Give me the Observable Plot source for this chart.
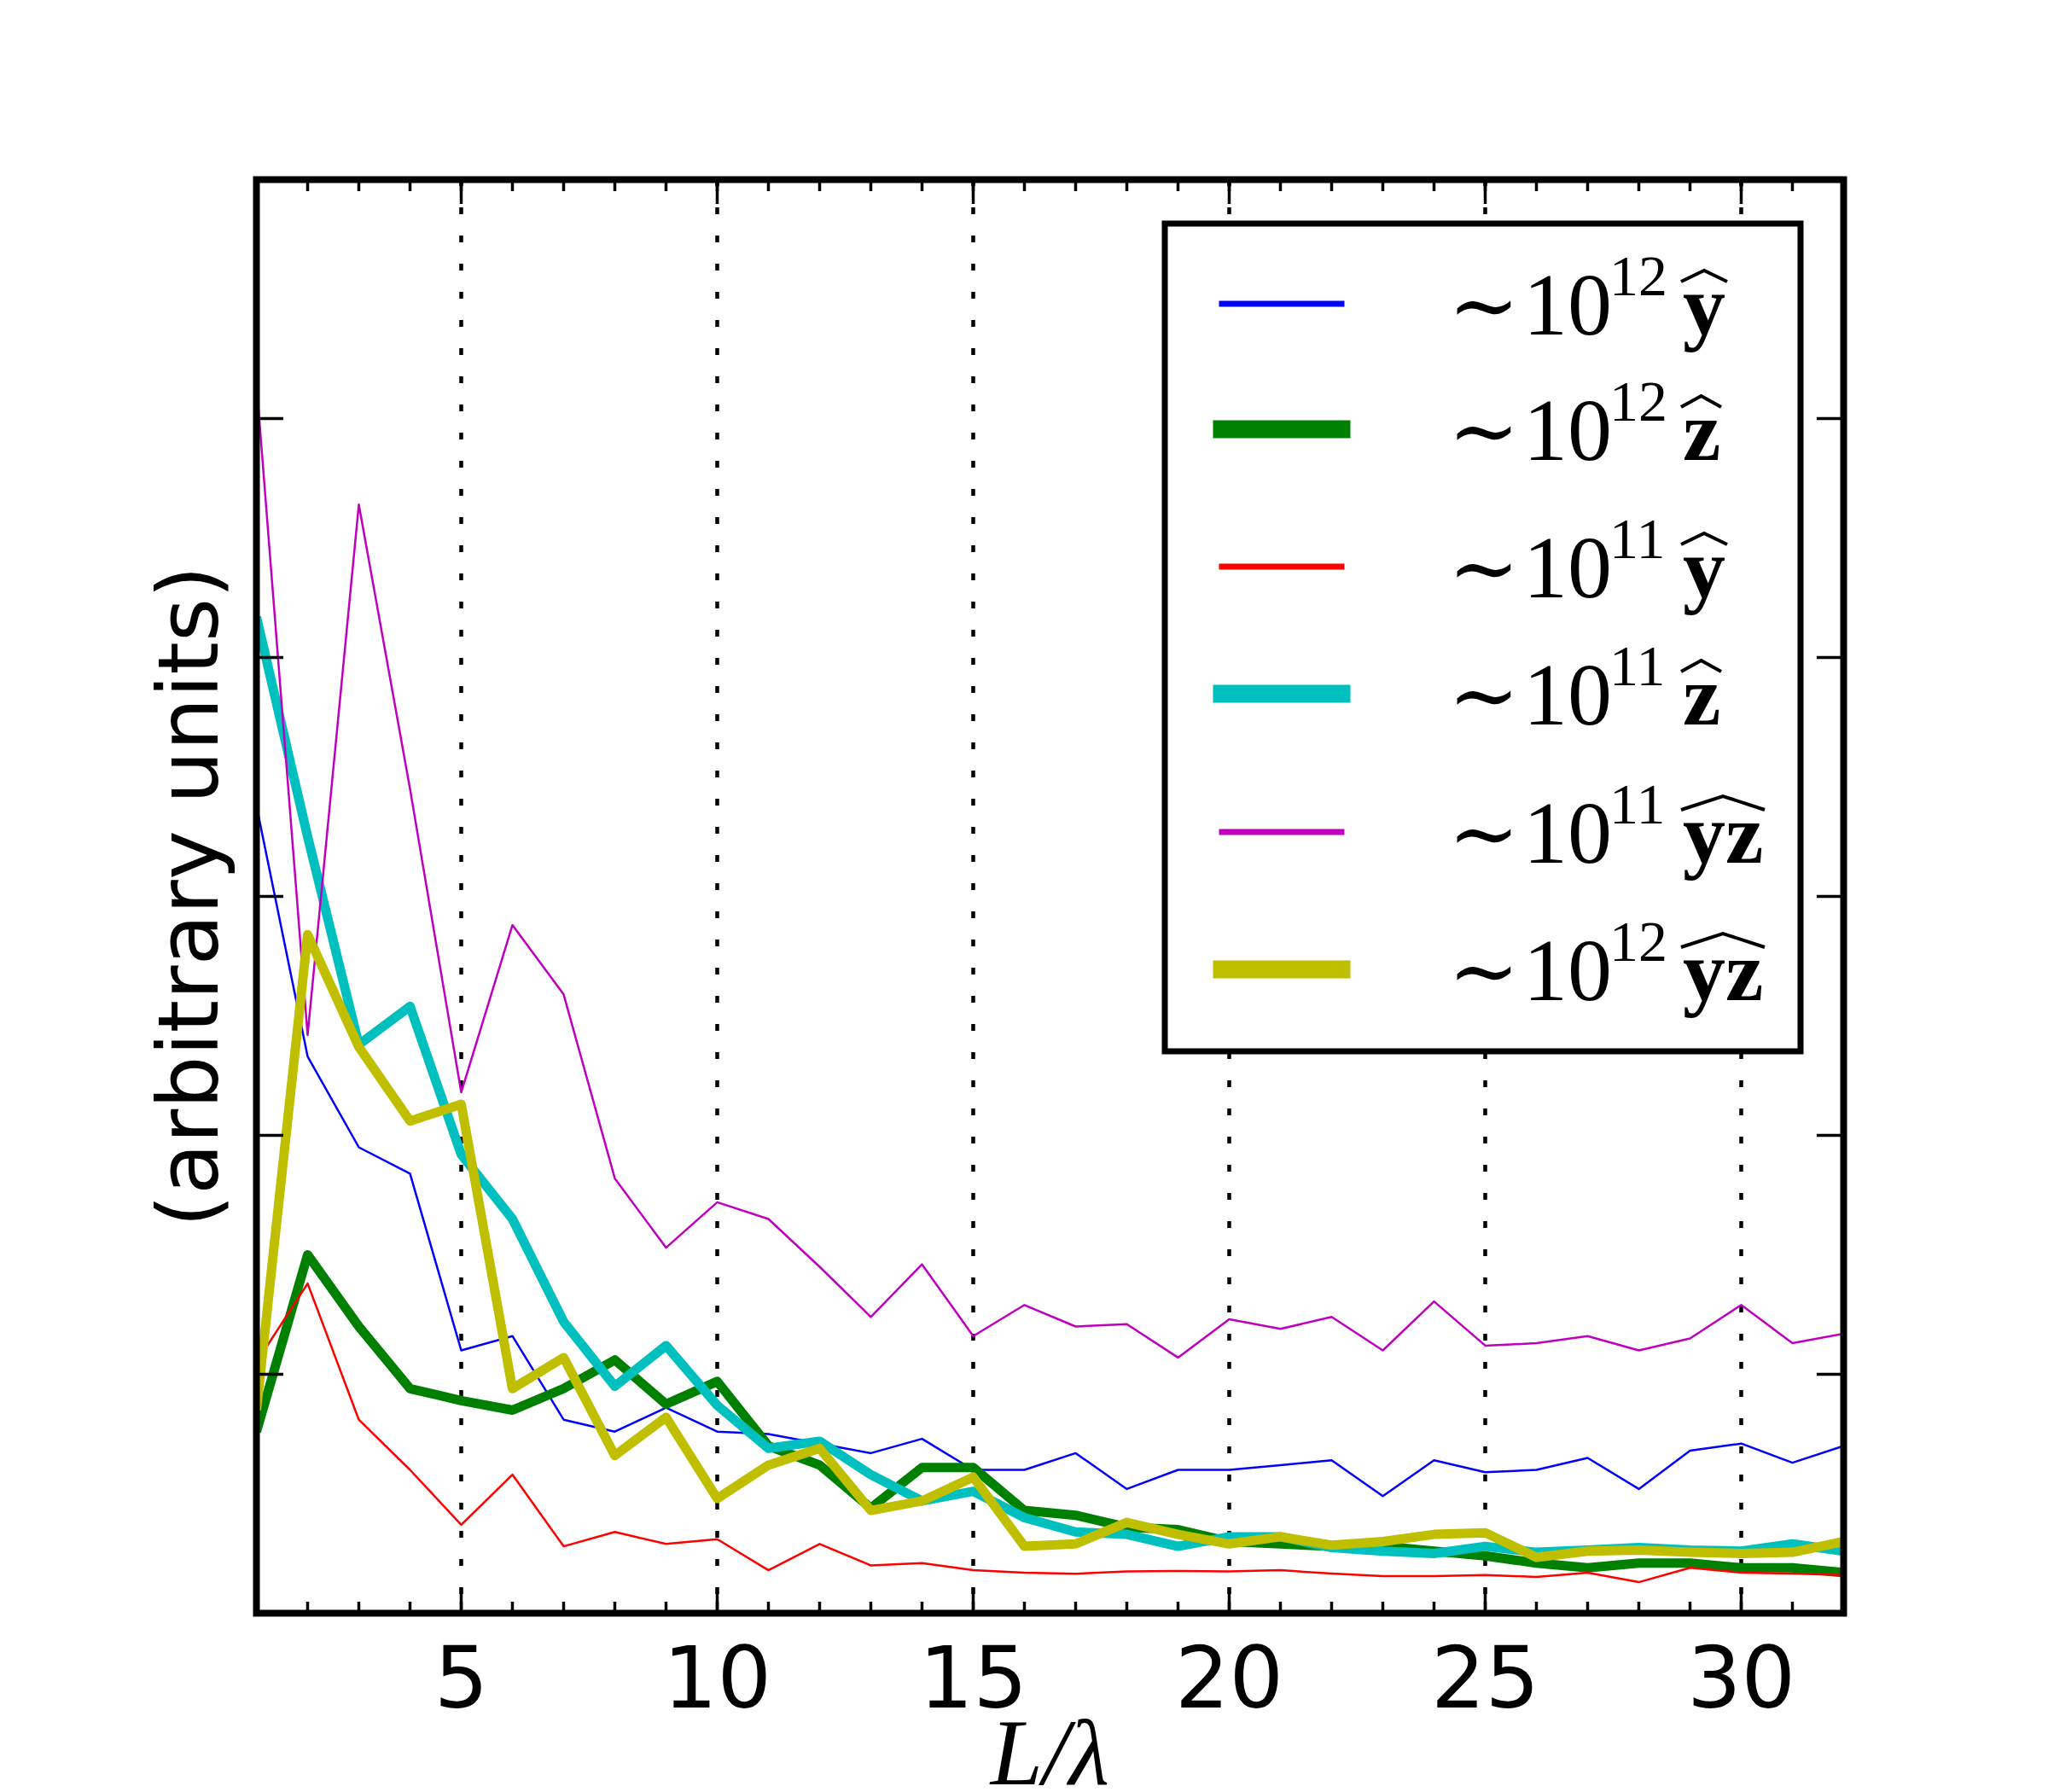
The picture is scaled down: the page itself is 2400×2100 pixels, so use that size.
<!DOCTYPE html>
<html>
<head>
<meta charset="utf-8">
<script src="https://cdn.jsdelivr.net/npm/d3@7"></script>
<script src="https://cdn.jsdelivr.net/npm/@observablehq/plot@0.6"></script>
<style>
  html, body { margin: 0; padding: 0; background: #fff; }
</style>
</head>
<body>
<div id="chart"></div>
<script>
// ---- data ----
const L = [1,2,3,4,5,6,7,8,9,10,11,12,13,14,15,16,17,18,19,20,21,22,23,24,25,26,27,28,29,30,31,32];

const y12  = [3.38,2.33,1.95,1.84,1.10,1.16,0.81,0.76,0.86,0.76,0.75,0.71,0.67,0.73,0.60,0.60,0.67,0.52,0.60,0.60,0.62,0.64,0.49,0.64,0.59,0.60,0.65,0.52,0.68,0.71,0.63,0.70];
const z12  = [0.76,1.50,1.20,0.94,0.89,0.85,0.94,1.06,0.875,0.97,0.70,0.62,0.44,0.61,0.61,0.43,0.41,0.36,0.35,0.30,0.29,0.28,0.28,0.26,0.24,0.21,0.19,0.21,0.21,0.19,0.19,0.17];
const y11  = [1.05,1.38,0.81,0.60,0.37,0.58,0.28,0.34,0.29,0.31,0.18,0.29,0.20,0.21,0.18,0.17,0.165,0.175,0.177,0.175,0.18,0.166,0.155,0.155,0.16,0.152,0.17,0.13,0.19,0.17,0.166,0.16];
const z11  = [4.17,3.25,2.38,2.54,1.92,1.65,1.22,0.95,1.12,0.87,0.69,0.72,0.58,0.47,0.51,0.40,0.34,0.33,0.28,0.32,0.32,0.275,0.26,0.25,0.28,0.255,0.264,0.275,0.264,0.26,0.29,0.26];
const yz11 = [5.15,2.42,4.64,3.45,2.18,2.88,2.59,1.82,1.53,1.72,1.65,1.45,1.24,1.46,1.16,1.29,1.20,1.21,1.07,1.23,1.19,1.24,1.10,1.305,1.12,1.13,1.16,1.10,1.15,1.29,1.13,1.17];
const yz12 = [0.85,2.84,2.37,2.06,2.13,0.94,1.07,0.66,0.82,0.48,0.62,0.69,0.43,0.47,0.57,0.28,0.29,0.38,0.33,0.29,0.32,0.285,0.30,0.33,0.337,0.234,0.26,0.264,0.255,0.25,0.255,0.30];

const xMajorTicks = [5,10,15,20,25,30];
const xMinorTicks = L;
const yTicks = [1,2,3,4,5];

const legendExponents = ["12","12","11","11","11","12"];
const legendLetters   = ["y","z","y","z","yz","yz"];
const seriesValues    = [y12, z12, y11, z11, yz11, yz12];
const seriesColors    = ["#0000ff","#008000","#ff0000","#00bfbf","#bf00bf","#bfbf00"];
const seriesThick     = [false, true, false, true, false, true];

// ---- build ----
const W = 2400, H = 2100;
const mL = 300, mR = 240, mT = 210, mB = 210;

const lineMarks = seriesValues.map((vals, s) =>
  Plot.line(L.map((x, i) => ({x, v: vals[i]})), {
    x: "x", y: "v",
    stroke: seriesColors[s],
    strokeWidth: seriesThick[s] ? 11 : 2.5,
    strokeLinejoin: "round",
    strokeLinecap: "butt",
    clip: "frame"
  })
);

const noText = () => "";

const plot = Plot.plot({
  width: W,
  height: H,
  marginLeft: mL, marginRight: mR, marginTop: mT, marginBottom: mB,
  style: {background: "white", fontFamily: "DejaVu Sans", overflow: "visible"},
  x: {domain: [1, 32]},
  y: {domain: [0, 6]},
  marks: [
    Plot.gridX(xMajorTicks, {stroke: "black", strokeOpacity: 1, strokeWidth: 4.5, strokeDasharray: "8,25"}),
    ...lineMarks,
    // minor ticks (inward) top and bottom
    Plot.axisX(xMinorTicks, {anchor: "bottom", tickSize: -13, strokeWidth: 3.5, tickFormat: noText, label: null}),
    Plot.axisX(xMinorTicks, {anchor: "top", tickSize: -13, strokeWidth: 3.5, tickFormat: noText, label: null}),
    // major ticks (inward)
    Plot.axisX(xMajorTicks, {anchor: "bottom", tickSize: -28, strokeWidth: 3.5, tickFormat: noText, label: null}),
    Plot.axisX(xMajorTicks, {anchor: "top", tickSize: -28, strokeWidth: 3.5, tickFormat: noText, label: null}),
    // tick labels
    Plot.axisX(xMajorTicks, {anchor: "bottom", tickSize: 0, tickPadding: 39, fontSize: 100, label: null, fill: "black"}),
    // y ticks, no labels
    Plot.axisY(yTicks, {anchor: "left", tickSize: -32, strokeWidth: 3.5, tickFormat: noText, label: null}),
    Plot.axisY(yTicks, {anchor: "right", tickSize: -32, strokeWidth: 3.5, tickFormat: noText, label: null}),
    // axis titles
    Plot.text(["(arbitrary units)"], {frameAnchor: "left", rotate: -90, dx: -46, textAnchor: "middle", lineAnchor: "bottom", fontSize: 98, fill: "black", fontFamily: "DejaVu Sans"}),
    Plot.text(["L/λ"], {frameAnchor: "bottom", dy: 200, textAnchor: "middle", lineAnchor: "bottom", fontSize: 110, fontStyle: "italic", fontFamily: "Liberation Serif", fill: "black"}),
    Plot.frame({stroke: "black", strokeWidth: 8})
  ]
});

document.getElementById("chart").appendChild(plot);

// ---- legend (inside the axes, upper right) ----
const svg = d3.select(plot.tagName.toLowerCase() === "svg" ? plot : plot.querySelector("svg"));
const lg = svg.append("g").attr("class", "legend").attr("text-anchor", "start").attr("fill", "black");
const box = {x0: 1365, y0: 262, x1: 2110, y1: 1232};
lg.append("rect")
  .attr("x", box.x0).attr("y", box.y0)
  .attr("width", box.x1 - box.x0).attr("height", box.y1 - box.y0)
  .attr("fill", "white").attr("stroke", "black").attr("stroke-width", 7);

const rowY = [356, 503, 664, 813, 975, 1136];
rowY.forEach((yy, i) => {
  lg.append("line")
    .attr("x1", 1432).attr("x2", 1572).attr("y1", yy).attr("y2", yy)
    .attr("stroke", seriesColors[i])
    .attr("stroke-width", seriesThick[i] ? 21 : 7)
    .attr("stroke-linecap", "square");
  const base = yy + 36;
  lg.append("text").attr("x", 1697).attr("y", base)
    .attr("font-family", "DejaVu Serif").attr("font-size", 100).text("∼");
  lg.append("text").attr("x", 1785).attr("y", base)
    .attr("font-family", "Liberation Serif").attr("font-size", 104).text("10");
  lg.append("text").attr("x", 1886).attr("y", base - 46)
    .attr("font-family", "Liberation Serif").attr("font-size", 68).text(legendExponents[i]);
  const letters = legendLetters[i];
  lg.append("text").attr("x", 1972).attr("y", base)
    .attr("font-family", "Liberation Serif").attr("font-weight", "bold").attr("font-size", 100).text(letters);
  const hx0 = 1970;
  const hx1 = letters === "yz" ? 2068 : (letters === "y" ? 2024 : 2017);
  const hm = (hx0 + hx1) / 2;
  const hEnd = base - 62, hTop = base - (letters === "yz" ? 78 : 75);
  lg.append("path")
    .attr("d", `M${hx0},${hEnd} L${hm},${hTop} L${hx1},${hEnd}`)
    .attr("fill", "none").attr("stroke", "black").attr("stroke-width", 4)
    .attr("stroke-linejoin", "miter");
});
</script>
</body>
</html>
